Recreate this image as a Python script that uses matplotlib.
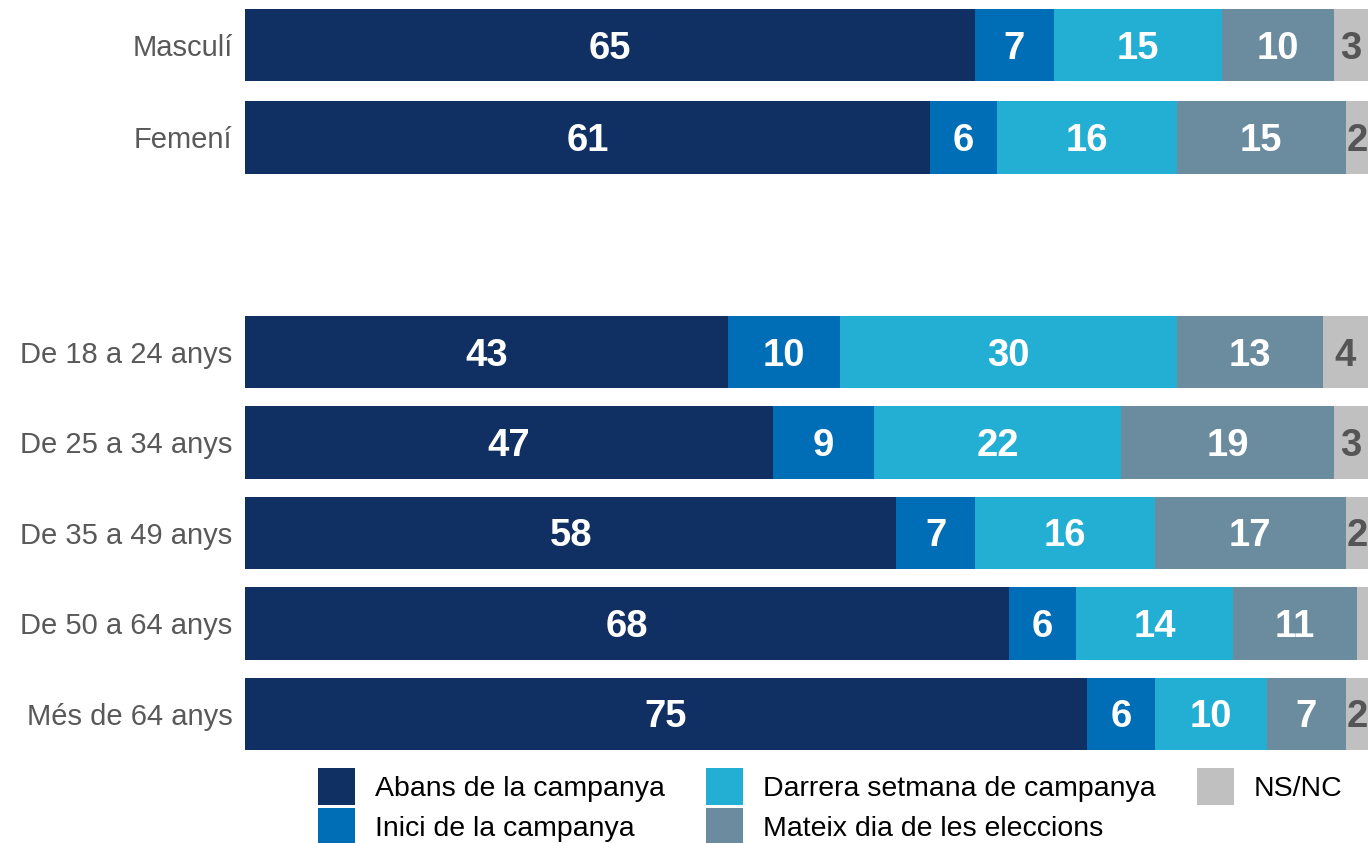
import numpy as np
import matplotlib.pyplot as plt

plt.rcParams['font.family'] = ['Liberation Sans', 'DejaVu Sans']

categories = ['Masculí', 'Femení', 'De 18 a 24 anys', 'De 25 a 34 anys',
              'De 35 a 49 anys', 'De 50 a 64 anys', 'Més de 64 anys']
series = ['Abans de la campanya', 'Inici de la campanya',
          'Darrera setmana de campanya', 'Mateix dia de les eleccions', 'NS/NC']
abans = [65, 61, 43, 47, 58, 68, 75]
inici = [7, 6, 10, 9, 7, 6, 6]
darrera = [15, 16, 30, 22, 16, 14, 10]
mateix = [10, 15, 13, 19, 17, 11, 7]
nsnc = [3, 2, 4, 3, 2, 1, 2]

colors = ['#102F63', '#006DB7', '#23AED3', '#6B8B9F', '#C0C0C0']
text_colors = ['white', 'white', 'white', 'white', '#555555']

# row layout: gap between sex and age groups
ypos = np.array([0, 1.02, 3.39, 4.39, 5.39, 6.39, 7.39])

fig = plt.figure(figsize=(13.68, 8.43), dpi=100)
ax = fig.add_axes([245 / 1368, 93 / 843, 1 - 245 / 1368, 741 / 843])

left = np.zeros(len(categories))
for name, vals, c, tc in zip(series, [abans, inici, darrera, mateix, nsnc], colors, text_colors):
    vals = np.array(vals, dtype=float)
    ax.barh(ypos, vals, left=left, height=0.8, color=c, label=name, edgecolor='none')
    for y, l, v in zip(ypos, left, vals):
        if v >= 2:
            ax.text(l + v / 2, y + 0.04, f'{v:.0f}', ha='center', va='center',
                    color=tc, fontsize=27.5, fontweight='bold', clip_on=False)
    left += vals

ax.set_xlim(0, 100)
ax.set_ylim(ypos[-1] + 0.4, -0.4)
ax.set_yticks(ypos)
ax.set_yticklabels(categories, fontsize=21, color='#595959')
ax.tick_params(axis='y', length=0, pad=9)
ax.set_xticks([])
for s in ax.spines.values():
    s.set_visible(False)

fig.legend(loc='upper left', bbox_to_anchor=(318 / 1368, 1 - 768 / 843), ncol=3,
           frameon=False, fontsize=20.5, handlelength=1.3, handleheight=1.6,
           handletextpad=0.7, columnspacing=1.45, labelspacing=0.12,
           borderaxespad=0, borderpad=0)

fig.savefig('out.png', dpi=100)
